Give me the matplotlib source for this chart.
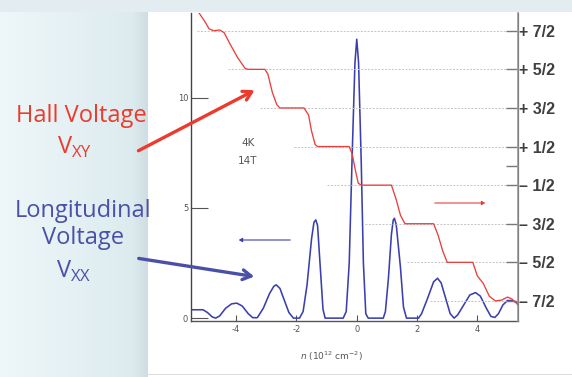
import numpy as np
import matplotlib
matplotlib.use("Agg")
import matplotlib.pyplot as plt
from matplotlib.colors import to_rgb

# ---------------- data ----------------
# Longitudinal voltage Vxx (left axis)
vxx_n = [-5.5, -5.1, -4.95, -4.8, -4.68, -4.55, -4.35, -4.15, -3.98, -3.8, -3.6, -3.45,
         -3.3, -3.1, -2.9, -2.75, -2.67, -2.55, -2.4, -2.25, -2.1, -1.9, -1.78, -1.65,
         -1.5, -1.42, -1.36, -1.3, -1.22, -1.12, -1.05, -0.45, -0.35, -0.25, -0.15,
         -0.06, 0.0, 0.06, 0.15, 0.22, 0.3, 0.38, 0.88, 0.95, 1.05, 1.15, 1.21, 1.25,
         1.31, 1.45, 1.55, 1.65, 2.05, 2.15, 2.35, 2.55, 2.68, 2.8, 2.95, 3.1, 3.23,
         3.35, 3.55, 3.75, 3.94, 4.1, 4.3, 4.45, 4.58, 4.7, 4.85, 5.0, 5.15, 5.35]
vxx_v = [0.38, 0.38, 0.25, 0.06, 0.0, 0.1, 0.45, 0.65, 0.68, 0.55, 0.2, 0.02,
         0.02, 0.45, 1.1, 1.45, 1.51, 1.35, 0.8, 0.25, 0.0, 0.0, 0.3, 1.5,
         3.6, 4.35, 4.46, 4.2, 2.5, 0.4, 0.0, 0.0, 0.3, 2.5, 7.5,
         11.6, 12.66, 11.6, 7.0, 2.5, 0.2, 0.0, 0.0, 0.3, 1.8, 3.8, 4.45, 4.53,
         4.25, 2.3, 0.5, 0.0, 0.0, 0.2, 0.9, 1.65, 1.81, 1.6, 0.9, 0.2, 0.0,
         0.15, 0.6, 1.05, 1.16, 1.0, 0.45, 0.08, 0.03, 0.2, 0.6, 0.8, 0.8, 0.7]

# Hall voltage Vxy (right axis, filling factor units)
vxy_n = [-5.24, -5.05, -4.9, -4.75, -4.55, -4.4, -4.2, -3.95, -3.7, -3.6, -3.05, -2.95,
         -2.8, -2.65, -2.55, -1.75, -1.6, -1.5, -1.38, -1.3, -0.25, -0.15, -0.05, 0.05,
         0.15, 1.15, 1.3, 1.45, 1.6, 2.55, 2.7, 2.85, 3.0, 3.85, 4.0, 4.2, 4.4, 4.6,
         4.8, 5.0, 5.15, 5.35]
vxy_v = [3.97, 3.75, 3.55, 3.5, 3.52, 3.45, 3.15, 2.8, 2.52, 2.5, 2.5, 2.38,
         1.9, 1.58, 1.5, 1.5, 1.32, 0.9, 0.55, 0.5, 0.5, 0.3, -0.1, -0.45,
         -0.5, -0.5, -0.85, -1.28, -1.5, -1.5, -1.8, -2.2, -2.5, -2.5, -2.85, -3.05,
         -3.38, -3.5, -3.48, -3.4, -3.45, -3.6]

plateau_levels = [3.5, 2.5, 1.5, 0.5, -0.5, -1.5, -2.5, -3.5]
plateau_labels = ["+ 7/2", "+ 5/2", "+ 3/2", "+ 1/2", "\u2013 1/2", "\u2013 3/2", "\u2013 5/2", "\u2013 7/2"]
guide_start = [-5.29, -4.26, -3.2, -2.07, -0.98, 0.27, 1.66, 2.43]

left_ticks = [0, 5, 10]
x_ticks = [-4, -2, 0, 2, 4]

# ---------------- figure ----------------
W, H = 572, 377
fig = plt.figure(figsize=(W / 100, H / 100), dpi=100)

# background
bg = fig.add_axes([0, 0, 1, 1], zorder=-10)
img = np.ones((H, W, 3))
c_panel_l = np.array(to_rgb("#eef7f9"))
c_panel_r = np.array(to_rgb("#dbeaee"))
for i in range(148):
    t = i / 147
    col = c_panel_l * (1 - t) + c_panel_r * t
    if i > 132:
        col = col - (i - 132) / 15 * 0.05
    img[:, i, :] = col
img[:12, :, :] = np.array(to_rgb("#e3edf1"))
img[374:375, 148:, :] = np.array(to_rgb("#dddddd"))
bg.imshow(img, aspect="auto", extent=[0, W, H, 0], interpolation="bilinear")
bg.set_xlim(0, W)
bg.set_ylim(H, 0)
bg.axis("off")

# main axes
x0, x1 = 191 / W, 518 / W
y0, y1 = 1 - 321 / H, 1 - 13 / H
ax = fig.add_axes([x0, y0, x1 - x0, y1 - y0])
ax.patch.set_alpha(0)
ax2 = ax.twinx()

blue = "#3b3fae"
red = "#e8403c"
gray_txt = "#555555"

ax.plot(vxx_n, vxx_v, color=blue, lw=1.15, zorder=5)
ax.set_xlim(-5.5, 5.35)
ax.set_ylim(-0.13, 13.85)

for lev, xs0 in zip(plateau_levels, guide_start):
    ax2.plot([xs0, 5.35], [lev, lev], color="#c4c4c4", lw=0.7, ls=(0, (2, 1.5)), zorder=1)
ax2.plot(vxy_n, vxy_v, color=red, lw=0.95, zorder=4)
ax2.set_ylim(-4.02, 3.96)

# spines
for a in (ax, ax2):
    a.spines["top"].set_visible(False)
ax.spines["left"].set_color("#444444")
ax.spines["bottom"].set_color("#555555")
ax.spines["left"].set_linewidth(1.0)
ax.spines["bottom"].set_linewidth(1.0)
ax2.spines["right"].set_color("#9a9a9a")
ax2.spines["right"].set_linewidth(1.2)
ax2.spines["left"].set_visible(False)
ax2.spines["bottom"].set_visible(False)

ax.set_xticks(x_ticks)
ax.set_xticklabels([str(t) for t in x_ticks])
ax.set_yticks(left_ticks)
ax.set_yticklabels([str(t) for t in left_ticks])
ax.tick_params(axis="x", direction="in", length=4, width=0.8, color="#555555",
               labelsize=6, labelcolor=gray_txt, pad=3)
ax.tick_params(axis="y", direction="in", length=12, width=0.8, color="#555555",
               labelsize=6, labelcolor=gray_txt, pad=2)

ax2.set_yticks(plateau_levels + [0])
ax2.set_yticklabels(plateau_labels + [""])
ax2.tick_params(axis="y", direction="in", length=9, width=1.0, color="#777777",
                labelsize=11.5, labelcolor="#3f3f3f", pad=1)
for lab in ax2.get_yticklabels():
    lab.set_fontfamily("Liberation Sans")
    lab.set_fontweight("bold")

# annotations inside the plot
fig.text(248 / W, 1 - 143 / H, "4K", fontsize=7.5, color=gray_txt, ha="center", va="center")
fig.text(248 / W, 1 - 161.5 / H, "14T", fontsize=7.5, color=gray_txt, ha="center", va="center")
fig.text(331 / W, 1 - 356 / H, r"$n$ (10$^{12}$ cm$^{-2}$)", fontsize=6.5, color=gray_txt,
         ha="center", va="center")

# small direction arrows
fig.patches.append(matplotlib.patches.FancyArrowPatch(
    (293 / W, 1 - 240 / H), (236 / W, 1 - 240 / H), transform=fig.transFigure,
    arrowstyle="-|>,head_length=2,head_width=1.2", color=blue, lw=0.8))
fig.patches.append(matplotlib.patches.FancyArrowPatch(
    (432 / W, 1 - 203 / H), (488 / W, 1 - 203 / H), transform=fig.transFigure,
    arrowstyle="-|>,head_length=2,head_width=1.2", color=red, lw=0.8))

# big pointer arrows
red_t = "#ec3b2d"
blue_t = "#4a50a8"
fig.patches.append(matplotlib.patches.FancyArrowPatch(
    (136 / W, 1 - 152 / H), (257 / W, 1 - 89 / H), transform=fig.transFigure,
    arrowstyle="->,head_length=6,head_width=3.5", color=red_t, lw=2.4, zorder=10))
fig.patches.append(matplotlib.patches.FancyArrowPatch(
    (136 / W, 1 - 258 / H), (257 / W, 1 - 277 / H), transform=fig.transFigure,
    arrowstyle="->,head_length=6,head_width=3.5", color=blue_t, lw=2.4, zorder=10))

# side labels
fam = ["Open Sans", "DejaVu Sans"]
fs = 17
fig.text(81 / W, 1 - 116 / H, "Hall Voltage", fontsize=fs, color=red_t, ha="center",
         va="center", family=fam)
fig.text(75 / W, 1 - 147 / H, r"V$_{\mathregular{XY}}$", fontsize=fs, color=red_t, ha="center",
         va="center", family=fam)
fig.text(83 / W, 1 - 211 / H, "Longitudinal", fontsize=fs, color=blue_t, ha="center",
         va="center", family=fam)
fig.text(83 / W, 1 - 238 / H, "Voltage", fontsize=fs, color=blue_t, ha="center",
         va="center", family=fam)
fig.text(74 / W, 1 - 271 / H, r"V$_{\mathregular{XX}}$", fontsize=fs, color=blue_t, ha="center",
         va="center", family=fam)

fig.savefig("out.png", dpi=100)
